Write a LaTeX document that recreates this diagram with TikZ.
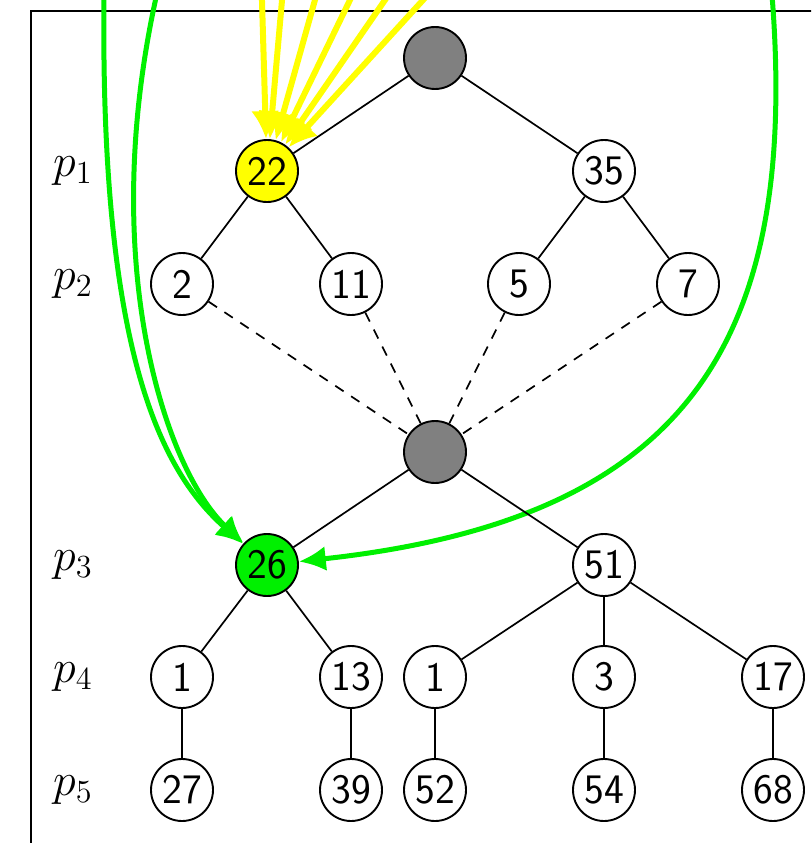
\RequirePackage{fix-cm}
\documentclass[tikz,border=0pt]{standalone}
\usetikzlibrary{arrows.meta}
\definecolor{ggreen}{RGB}{0,240,0}
\definecolor{yyellow}{RGB}{255,255,0}
\newcommand{\nt}[1]{\scalebox{1.75}{#1}}
\newcommand{\lt}[1]{\scalebox{2.3}{#1}}
\begin{document}
\begin{tikzpicture}[x=1pt,y=-1pt,
  nd/.style={circle,draw,line width=1.9pt,minimum size=62pt,inner sep=0pt,font=\fontsize{24}{28}\selectfont\sffamily},
  gnd/.style={nd,fill=gray},
  lbl/.style={font=\fontsize{20}{24}\selectfont},
  tedge/.style={line width=1.7pt},
  dedge/.style={line width=1.7pt,dash pattern=on 10pt off 9pt},
  yarr/.style={draw=yyellow,line width=6pt,-{Latex[length=28pt,width=28pt]}},
  garr/.style={draw=ggreen,line width=5pt,-{Latex[length=27pt,width=25pt]}}]
\useasboundingbox (0,0) rectangle (811,843);
\clip (0,0) rectangle (811,843);
\draw[line width=2.6pt] (31,11) rectangle (900,900);
% nodes
\node[gnd] (r) at (435,58) {};
\node[nd,fill=yyellow] (a22) at (267,171) {\nt{22}};
\node[nd] (a35) at (604,171) {\nt{35}};
\node[nd] (b2) at (182,284) {\nt{2}};
\node[nd] (b11) at (351,284) {\nt{11}};
\node[nd] (b5) at (519,284) {\nt{5}};
\node[nd] (b7) at (688,284) {\nt{7}};
\node[gnd] (m) at (435,452) {};
\node[nd,fill=ggreen] (c26) at (267,565) {\nt{26}};
\node[nd] (c51) at (604,565) {\nt{51}};
\node[nd] (d1) at (182,677) {\nt{1}};
\node[nd] (d13) at (351,677) {\nt{13}};
\node[nd] (d1b) at (435,677) {\nt{1}};
\node[nd] (d3) at (604,677) {\nt{3}};
\node[nd] (d17) at (773,677) {\nt{17}};
\node[nd] (e27) at (182,790) {\nt{27}};
\node[nd] (e39) at (351,790) {\nt{39}};
\node[nd] (e52) at (435,790) {\nt{52}};
\node[nd] (e54) at (604,790) {\nt{54}};
\node[nd] (e68) at (773,790) {\nt{68}};
% labels
\node[lbl] (p1) at (73,171) {\lt{$p_1$}};
\node[lbl] (p2) at (73,284) {\lt{$p_2$}};
\node[lbl] (p3) at (73,565) {\lt{$p_3$}};
\node[lbl] (p4) at (73,677) {\lt{$p_4$}};
\node[lbl] (p5) at (73,790) {\lt{$p_5$}};
% arrow sources
\coordinate (ys1) at (260.2,-60);
\coordinate (ys2) at (287.3,-60);
\coordinate (ys3) at (331.8,-60);
\coordinate (ys4) at (379.1,-60);
\coordinate (ys5) at (426.4,-60);
\coordinate (ys6) at (477.8,-60);
\coordinate (gs1) at (104,-5);
\coordinate (gs2) at (165,-40);
\coordinate (gs3) at (772,-5);
% green arrows
\draw[garr] (gs1) .. controls (100,350) and (160,470) .. (c26);
\draw[garr] (gs2) .. controls (90,250) and (165,470) .. (c26);
\draw[garr] (gs3) .. controls (800,350) and (680,520) .. (c26);
% yellow arrows
\foreach \s in {ys1,ys2,ys3,ys4,ys5,ys6} \draw[yarr] (\s) -- (a22);
% tree edges
\draw[tedge] (r) -- (a22);
\draw[tedge] (r) -- (a35);
\draw[tedge] (a22) -- (b2);
\draw[tedge] (a22) -- (b11);
\draw[tedge] (a35) -- (b5);
\draw[tedge] (a35) -- (b7);
\foreach \s in {b2,b11,b5,b7} \draw[dedge] (\s) -- (m);
\draw[tedge] (m) -- (c26);
\draw[tedge] (m) -- (c51);
\draw[tedge] (c26) -- (d1);
\draw[tedge] (c26) -- (d13);
\draw[tedge] (c51) -- (d1b);
\draw[tedge] (c51) -- (d3);
\draw[tedge] (c51) -- (d17);
\draw[tedge] (d1) -- (e27);
\draw[tedge] (d13) -- (e39);
\draw[tedge] (d1b) -- (e52);
\draw[tedge] (d3) -- (e54);
\draw[tedge] (d17) -- (e68);
\end{tikzpicture}
\end{document}
